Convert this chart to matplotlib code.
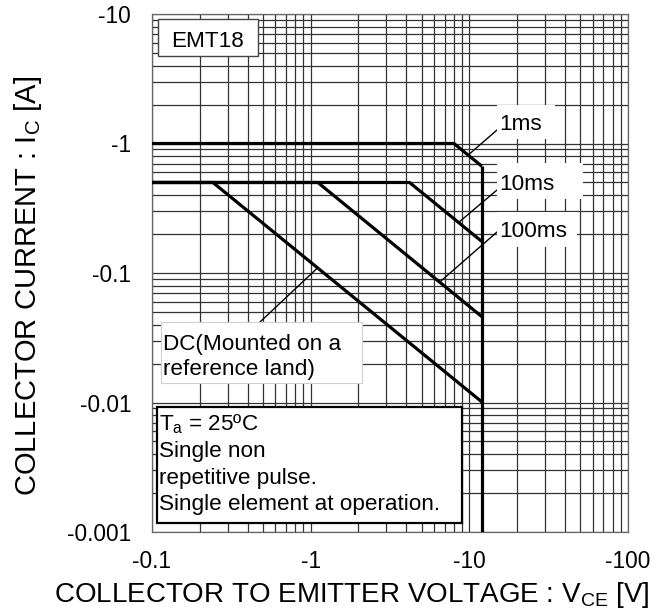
import matplotlib
matplotlib.use("Agg")
import matplotlib.pyplot as plt
from matplotlib import font_manager
from matplotlib.patches import Rectangle
from matplotlib.ticker import LogLocator, NullFormatter, FixedLocator

# ---- safe operating area boundaries (|VCE| in V, |IC| in A) ----
vce_1ms = [0.1, 8.0, 12.0]
ic_1ms = [1.0, 1.0, 0.667]
vce_10ms = [0.1, 4.2, 12.0]
ic_10ms = [0.5, 0.5, 0.175]
vce_100ms = [0.1, 1.11, 12.0]
ic_100ms = [0.5, 0.5, 0.046]
vce_dc = [0.1, 0.242, 12.0]
ic_dc = [0.5, 0.5, 0.0101]
vce_limit = [12.0, 12.0]
ic_limit = [0.667, 0.001]

# points on the curves where the label leaders end
pt_1ms = (9.9, 0.82)
pt_10ms = (8.7, 0.25)
pt_100ms = (6.5, 0.085)
pt_dc = (1.11, 0.11)

x_ticks = [0.1, 1, 10, 100]
x_tick_labels = ["-0.1", "-1", "-10", "-100"]
y_ticks = [0.001, 0.01, 0.1, 1, 10]
y_tick_labels = ["-0.001", "-0.01", "-0.1", "-1", "-10"]

W, H = 667, 615


def has_font(name):
    try:
        font_manager.findfont(font_manager.FontProperties(family=name),
                              fallback_to_default=False)
        return True
    except Exception:
        return False


plt.rcParams["font.family"] = ["Liberation Sans", "DejaVu Sans"]
narrow = has_font("Liberation Sans Narrow")
label_family = ["Liberation Sans Narrow", "Liberation Sans"] if narrow else ["Liberation Sans"]
xlabel_size = 24.3 if narrow else 20
ylabel_size = 25.5 if narrow else 21
note_size = 16.2


def fx(x):
    return x / W


def fy(y):
    return 1 - y / H


fig = plt.figure(figsize=(W / 100, H / 100), dpi=100)
ax = fig.add_axes([fx(152), fy(532), 476 / W, 518 / H])
ax.set_xscale("log")
ax.set_yscale("log")
ax.set_xlim(0.1, 100)
ax.set_ylim(0.001, 10)

ax.xaxis.set_major_locator(FixedLocator(x_ticks))
ax.set_xticklabels(x_tick_labels)
ax.yaxis.set_major_locator(FixedLocator(y_ticks))
ax.set_yticklabels(y_tick_labels)
for axis in (ax.xaxis, ax.yaxis):
    axis.set_minor_locator(LogLocator(base=10, subs=range(2, 10)))
    axis.set_minor_formatter(NullFormatter())
ax.tick_params(which="both", length=0, labelsize=16.3)
ax.tick_params(axis="x", pad=13)
ax.tick_params(axis="y", pad=15)

ax.set_axisbelow(True)
ax.grid(which="both", color="#333333", linewidth=0.9)
for sp in ax.spines.values():
    sp.set_color("#666666")
    sp.set_linewidth(0.9)

curve_kw = dict(color="black", linewidth=2.3, solid_capstyle="butt", zorder=3)
ax.plot(vce_1ms, ic_1ms, **curve_kw)
ax.plot(vce_10ms, ic_10ms, **curve_kw)
ax.plot(vce_100ms, ic_100ms, **curve_kw)
ax.plot(vce_dc, ic_dc, **curve_kw)
ax.plot(vce_limit, ic_limit, **curve_kw)

ax.set_xlabel(r"COLLECTOR TO EMITTER VOLTAGE : V$_\mathregular{CE}$ [V]",
              family=label_family, fontsize=xlabel_size)
ax.xaxis.set_label_coords((352 - 152) / 476, (532 - 580) / 518)
ax.set_ylabel(r"COLLECTOR CURRENT : I$_\mathregular{C}$ [A]",
              family=label_family, fontsize=ylabel_size)
ax.yaxis.label.set_va("center")
ax.yaxis.set_label_coords((28 - 152) / 476, (532 - 286) / 518)


def box(x0, y0, x1, y1, edge="none", lw=1.0):
    r = Rectangle((fx(x0), fy(y1)), (x1 - x0) / W, (y1 - y0) / H,
                  transform=fig.transFigure, facecolor="white",
                  edgecolor=edge, linewidth=lw, clip_on=False, zorder=5)
    ax.add_patch(r)


def label(x, y, s, size=note_size):
    ax.text(fx(x), fy(y), s, transform=fig.transFigure, ha="left",
            va="baseline", fontsize=size, color="black", zorder=6)


def leader(pt, x, y):
    ax.annotate("", xy=pt, xycoords="data", xytext=(fx(x), fy(y)),
                textcoords="figure fraction",
                arrowprops=dict(arrowstyle="-", color="black", lw=1.0,
                                shrinkA=0, shrinkB=0), zorder=4)


# device name
box(158, 19, 258, 56, edge="#444444", lw=1.0)
label(171, 47, "EMT18")

# pulse width labels
leader(pt_1ms, 497, 130)
box(497, 105, 555, 139)
label(499, 130, "1ms")

leader(pt_10ms, 497, 190)
box(497, 163, 583, 199)
label(499, 190, "10ms")

leader(pt_100ms, 497, 232)
box(497, 212, 577, 247)
label(499, 237, "100ms")

leader(pt_dc, 260, 322)
box(161, 322, 362, 383, edge="#d0d0d0", lw=0.8)
label(163, 350, "DC(Mounted on a")
label(163, 375, "reference land)")

# measurement conditions
box(157, 407, 462, 523, edge="black", lw=1.6)
label(159, 430, r"T$_\mathregular{a}$ = 25ºC")
label(159, 457, "Single non")
label(159, 484, "repetitive pulse.")
label(159, 510, "Single element at operation.")

fig.savefig("out.png", dpi=100)
